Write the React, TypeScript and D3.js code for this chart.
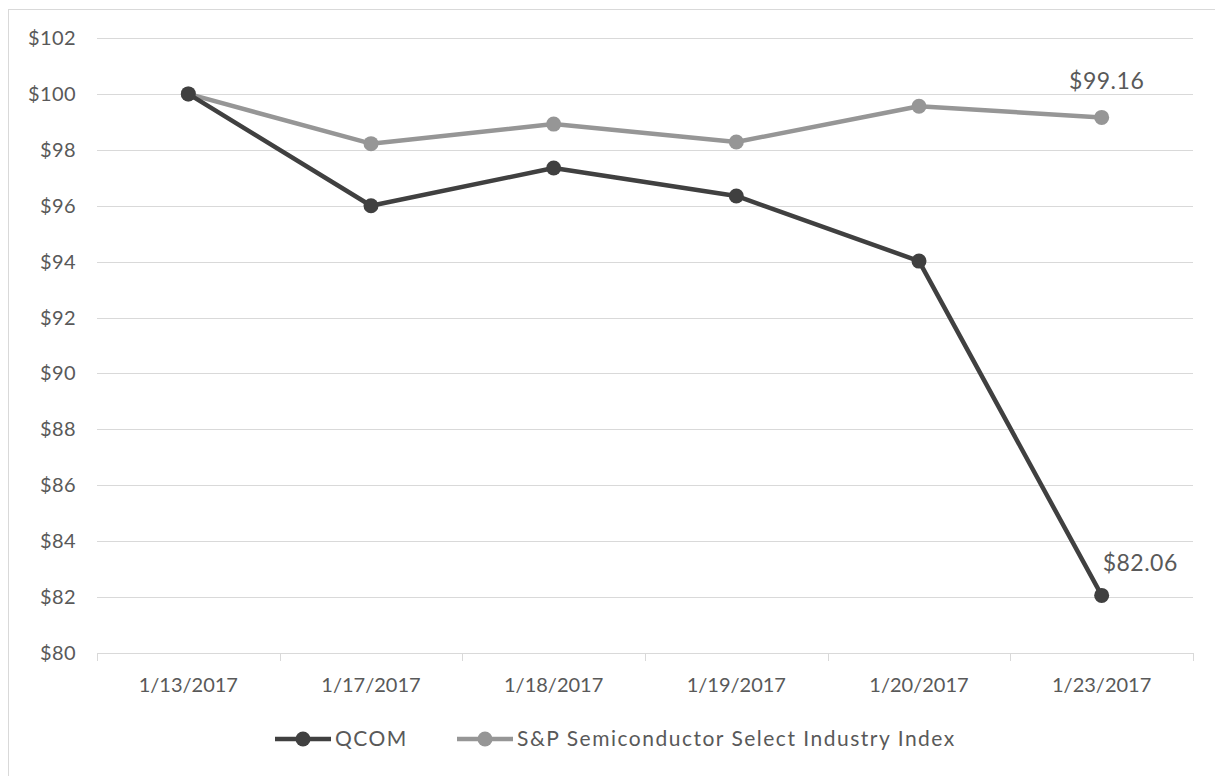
import React, { useEffect, useRef } from 'react';
import * as d3 from 'd3';

const dates = ['1/13/2017', '1/17/2017', '1/18/2017', '1/19/2017', '1/20/2017', '1/23/2017'];
const qcomValues = [100, 96.0, 97.35, 96.35, 94.02, 82.06];
const soxValues = [100, 98.22, 98.92, 98.28, 99.56, 99.16];
const yTicks = [80, 82, 84, 86, 88, 90, 92, 94, 96, 98, 100, 102];
const seriesNames = ['QCOM', 'S&P Semiconductor Select Industry Index'];

const FONT = "Lato, 'Open Sans', sans-serif";
const TEXT = '#595959';
const GRID = '#d9d9d9';
const QCOM_COLOR = '#404040';
const SOX_COLOR = '#969696';

const App = () => {
  const svgRef = useRef<SVGSVGElement>(null);

  useEffect(() => {
    document.body.style.margin = '0';
    if (!svgRef.current) return;
    const width = 1215;
    const height = 776;

    const svg = d3.select(svgRef.current);
    svg.selectAll('*').remove();
    svg.attr('width', width).attr('height', height);

    svg.append('rect').attr('width', width).attr('height', height).attr('fill', '#fff');

    // chart frame (runs past the right and bottom edges)
    svg.append('rect')
      .attr('x', 8.5)
      .attr('y', 9.5)
      .attr('width', width + 20)
      .attr('height', height + 20)
      .attr('fill', 'none')
      .attr('stroke', GRID)
      .attr('stroke-width', 1);

    const x = d3.scaleBand().domain(dates).range([97, 1193]).paddingInner(0).paddingOuter(0);
    const y = d3.scaleLinear().domain([80, 102]).range([653, 38]);
    const cx = (d: string) => (x(d) as number) + x.bandwidth() / 2;

    // gridlines
    svg.append('g')
      .selectAll('line')
      .data(yTicks.filter(t => t !== 80))
      .join('line')
      .attr('x1', 97)
      .attr('x2', 1193)
      .attr('y1', d => Math.round(y(d)) + 0.5)
      .attr('y2', d => Math.round(y(d)) + 0.5)
      .attr('stroke', GRID)
      .attr('stroke-width', 1);

    // y labels
    svg.append('g')
      .selectAll('text')
      .data(yTicks)
      .join('text')
      .attr('x', 76)
      .attr('y', d => y(d))
      .attr('dy', '0.35em')
      .attr('text-anchor', 'end')
      .attr('font-family', FONT)
      .attr('font-size', 20)
      .attr('letter-spacing', 0.4)
      .attr('fill', TEXT)
      .text(d => `$${d}`);

    // x axis with ticks at category boundaries
    const xAxis = svg.append('g');
    xAxis.append('line')
      .attr('x1', 97)
      .attr('x2', 1193)
      .attr('y1', Math.round(y(80)) + 0.5)
      .attr('y2', Math.round(y(80)) + 0.5)
      .attr('stroke', GRID);
    const boundaries = [...dates.map(d => x(d) as number), 1193];
    xAxis.selectAll('line.tick')
      .data(boundaries)
      .join('line')
      .attr('class', 'tick')
      .attr('x1', d => Math.round(d) + 0.5)
      .attr('x2', d => Math.round(d) + 0.5)
      .attr('y1', y(80))
      .attr('y2', y(80) + 8)
      .attr('stroke', GRID);
    xAxis.selectAll('text')
      .data(dates)
      .join('text')
      .attr('x', d => cx(d))
      .attr('y', 692)
      .attr('text-anchor', 'middle')
      .attr('font-family', FONT)
      .attr('font-size', 20)
      .attr('fill', TEXT)
      .text(d => d);

    const line = d3.line<number>()
      .x((_, i) => cx(dates[i]))
      .y(d => y(d));

    const series = [
      { name: seriesNames[1], values: soxValues, color: SOX_COLOR },
      { name: seriesNames[0], values: qcomValues, color: QCOM_COLOR },
    ];

    series.forEach(s => {
      svg.append('path')
        .datum(s.values)
        .attr('d', line)
        .attr('fill', 'none')
        .attr('stroke', s.color)
        .attr('stroke-width', 4.5)
        .attr('stroke-linejoin', 'round');
      svg.append('g')
        .selectAll('circle')
        .data(s.values)
        .join('circle')
        .attr('cx', (_, i) => cx(dates[i]))
        .attr('cy', d => y(d))
        .attr('r', 7.5)
        .attr('fill', s.color);
    });

    // end labels
    const last = dates.length - 1;
    svg.append('text')
      .attr('x', cx(dates[last]) + 5)
      .attr('y', y(soxValues[last]) - 28)
      .attr('text-anchor', 'middle')
      .attr('font-family', FONT)
      .attr('font-size', 23)
      .attr('letter-spacing', 0.5)
      .attr('fill', TEXT)
      .text(`$${soxValues[last].toFixed(2)}`);
    svg.append('text')
      .attr('x', cx(dates[last]) + 1)
      .attr('y', y(qcomValues[last]) - 24)
      .attr('font-family', FONT)
      .attr('font-size', 23)
      .attr('letter-spacing', 0.5)
      .attr('fill', TEXT)
      .text(`$${qcomValues[last].toFixed(2)}`);

    // legend
    const legend = [
      { name: seriesNames[0], color: QCOM_COLOR, x0: 275 },
      { name: seriesNames[1], color: SOX_COLOR, x0: 457 },
    ];
    legend.forEach(l => {
      const g = svg.append('g').attr('transform', `translate(${l.x0}, 739)`);
      g.append('line').attr('x1', 0).attr('x2', 56).attr('stroke', l.color).attr('stroke-width', 4.5);
      g.append('circle').attr('cx', 28).attr('r', 7.5).attr('fill', l.color);
      g.append('text')
        .attr('x', 60)
        .attr('y', 0)
        .attr('dy', '0.35em')
        .attr('font-family', FONT)
        .attr('font-size', 21)
        .attr('letter-spacing', 1.5)
        .attr('fill', TEXT)
        .text(l.name);
    });
  }, []);

  return <svg ref={svgRef} style={{ display: 'block' }} />;
};

export default App;
